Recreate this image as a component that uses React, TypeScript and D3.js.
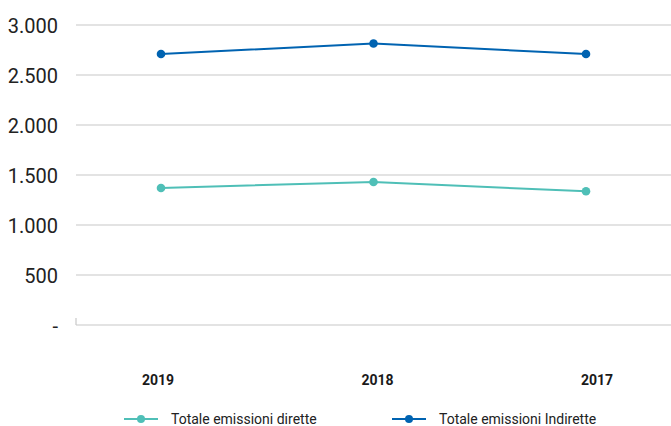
import React from "react";
import * as d3 from "d3";

const WIDTH = 671;
const HEIGHT = 426;

const years = ["2019", "2018", "2017"];
const dirette = [1370, 1430, 1337];
const indirette = [2710, 2815, 2710];
const yTicks = [0, 500, 1000, 1500, 2000, 2500, 3000];

const COLOR_DIR = "#4fbfb7";
const COLOR_IND = "#0063b1";

const series = [
  { name: "Totale emissioni dirette", values: dirette, color: COLOR_DIR },
  { name: "Totale emissioni Indirette", values: indirette, color: COLOR_IND },
];

const fmt = (v: number) => (v === 0 ? "-" : d3.format(",")(v).replace(/,/g, "."));

export default function App() {
  const yScale = d3.scaleLinear().domain([0, 3000]).range([325, 25]);
  const xScale = d3.scalePoint<string>().domain(years).range([161, 586]);
  const labelScale = d3.scalePoint<string>().domain(years).range([158, 597]);

  const line = d3
    .line<number>()
    .x((_, i) => xScale(years[i]) as number)
    .y((d) => yScale(d));

  const legendX = [124, 392];

  return (
    <svg
      width={WIDTH}
      height={HEIGHT}
      style={{ position: "absolute", left: 0, top: 0, fontFamily: "Roboto, sans-serif" }}
    >
      {/* grid */}
      {yTicks.map((t) => (
        <g key={t}>
          <line x1={76} x2={WIDTH} y1={yScale(t)} y2={yScale(t)} stroke="#c8c8c8" strokeWidth={1.2} />
          <text x={58} y={yScale(t) + 7.5} textAnchor="end" fontSize={20} fill="#222">
            {fmt(t)}
          </text>
        </g>
      ))}
      <line x1={76} x2={76} y1={yScale(0) - 7} y2={yScale(0)} stroke="#c8c8c8" strokeWidth={1.2} />

      {/* x labels */}
      {years.map((y) => (
        <text key={y} x={labelScale(y)} y={385} textAnchor="middle" fontSize={14} fontWeight="bold" fill="#1a1a1a">
          {y}
        </text>
      ))}

      {/* series */}
      {series.map((s) => (
        <g key={s.name}>
          <path d={line(s.values) || ""} fill="none" stroke={s.color} strokeWidth={2} />
          {s.values.map((v, i) => (
            <circle key={i} cx={xScale(years[i])} cy={yScale(v)} r={4.3} fill={s.color} />
          ))}
        </g>
      ))}

      {/* legend */}
      {series.map((s, i) => (
        <g key={s.name} transform={`translate(${legendX[i]},419)`}>
          <line x1={0} x2={34} y1={0} y2={0} stroke={s.color} strokeWidth={2} />
          <circle cx={17} cy={0} r={4} fill={s.color} />
          <text x={47} y={0} dominantBaseline="central" fontSize={14} fill="#222">
            {s.name}
          </text>
        </g>
      ))}
    </svg>
  );
}
